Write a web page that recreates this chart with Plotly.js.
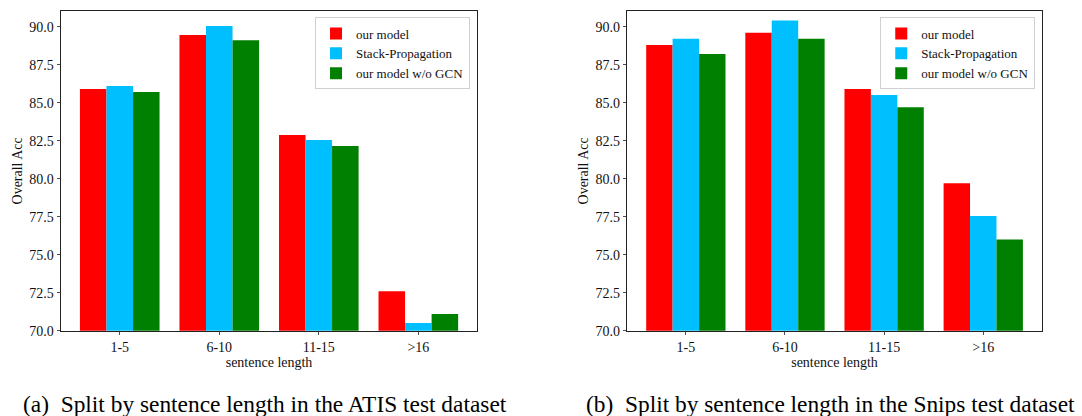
<!DOCTYPE html>
<html>
<head>
<meta charset="utf-8">
<script src="https://cdn.plot.ly/plotly-3.0.1.min.js"></script>
<style>html,body{margin:0;padding:0;background:#fff;}#chart{width:1082px;height:416px;}</style>
</head>
<body>
<div id="chart"></div>
<script>
const categories = ["1-5", "6-10", "11-15", ">16"];
const seriesNames = ["our model", "Stack-Propagation", "our model w/o GCN"];
const seriesColors = ["#ff0000", "#00bfff", "#008000"];
// ATIS (a)
const atisOurModel = [85.9, 89.45, 82.87, 72.6];
const atisStackProp = [86.1, 90.05, 82.55, 70.5];
const atisNoGCN = [85.7, 89.1, 82.15, 71.1];
// Snips (b)
const snipsOurModel = [88.8, 89.6, 85.9, 79.7];
const snipsStackProp = [89.2, 90.4, 85.5, 77.55];
const snipsNoGCN = [88.2, 89.2, 84.7, 76.0];
const yTickVals = [70.0, 72.5, 75.0, 77.5, 80.0, 82.5, 85.0, 87.5, 90.0];
const captionA = "(a)  Split by sentence length in the ATIS test dataset";
const captionB = "(b)  Split by sentence length in the Snips test dataset";

const font = {family: "Liberation Serif", size: 14, color: "#111"};
const fontLeg = {family: "Liberation Serif", size: 13, color: "#111"};
const atis = [atisOurModel, atisStackProp, atisNoGCN];
const snips = [snipsOurModel, snipsStackProp, snipsNoGCN];
const traces = [];
atis.forEach((vals, i) => traces.push({
  type: "bar", x: categories, y: vals, name: seriesNames[i],
  marker: {color: seriesColors[i], line: {width: 0}},
  xaxis: "x", yaxis: "y", legend: "legend", hoverinfo: "x+y+name"
}));
snips.forEach((vals, i) => traces.push({
  type: "bar", x: categories, y: vals, name: seriesNames[i],
  marker: {color: seriesColors[i], line: {width: 0}},
  xaxis: "x2", yaxis: "y2", legend: "legend2", hoverinfo: "x+y+name"
}));

function xax(domain, anchor) {
  return {
    domain: domain, anchor: anchor, type: "category", range: [-0.59, 3.59],
    showline: true, mirror: true, linecolor: "#222", linewidth: 1,
    ticks: "outside", ticklen: 3.5, tickwidth: 0.8, tickcolor: "#222",
    showgrid: false, zeroline: false, tickfont: font,
    title: {text: "sentence length", font: font, standoff: 2}
  };
}
function yax(anchor) {
  return {
    domain: [0.205, 0.9736], anchor: anchor, range: [70, 91.03],
    showline: true, mirror: true, linecolor: "#222", linewidth: 1,
    ticks: "outside", ticklen: 3.5, tickwidth: 0.8, tickcolor: "#222",
    showgrid: false, zeroline: false, tickfont: font,
    tickvals: yTickVals, tickformat: ".1f",
    title: {text: "Overall Acc", font: font, standoff: 3}
  };
}
function leg(xr, f) {
  return {
    x: xr, y: 0.958, xanchor: "right", yanchor: "top", xref: "paper", yref: "paper",
    bgcolor: "rgba(255,255,255,0.8)", bordercolor: "#d0d0d0", borderwidth: 1,
    font: f, itemwidth: 30, tracegroupgap: 0
  };
}
const capFont = {family: "Liberation Serif", size: 23.4, color: "#000"};
const layout = {
  width: 1082, height: 416,
  margin: {l: 0, r: 0, t: 0, b: 0},
  paper_bgcolor: "#fff", plot_bgcolor: "#fff",
  barmode: "group", bargap: 0.2, bargroupgap: 0,
  showlegend: true,
  xaxis: xax([0.0564, 0.4409], "y"),
  yaxis: yax("x"),
  xaxis2: xax([0.5798, 0.9628], "y2"),
  yaxis2: yax("x2"),
  legend: leg(0.4344, fontLeg),
  legend2: leg(0.9568, fontLeg),
  annotations: [
    {text: captionA, xref: "paper", yref: "paper", x: 265/1082, y: 1 - 404/416,
     xanchor: "center", yanchor: "middle", showarrow: false, font: capFont},
    {text: captionB, xref: "paper", yref: "paper", x: 830/1082, y: 1 - 404/416,
     xanchor: "center", yanchor: "middle", showarrow: false, font: capFont}
  ]
};
Plotly.newPlot("chart", traces, layout, {displayModeBar: false, staticPlot: true});
</script>
</body>
</html>
